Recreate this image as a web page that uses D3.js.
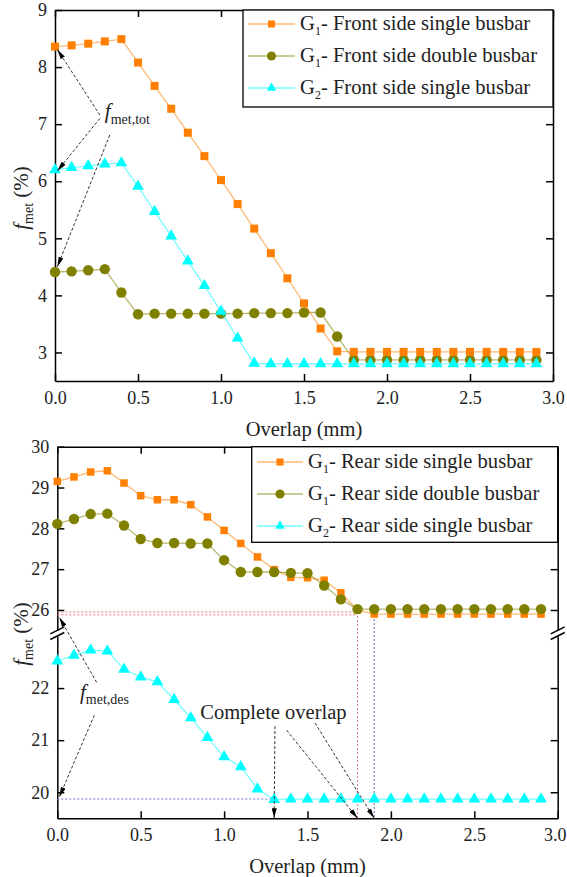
<!DOCTYPE html>
<html>
<head>
<meta charset="utf-8">
<script src="https://cdn.jsdelivr.net/npm/d3@7"></script>
<style>
body { margin: 0; background: #fff; }
svg, svg text { font-family: "Liberation Serif", "Times New Roman", serif !important; }
</style>
</head>
<body>
<svg id="chart" width="567" height="877"></svg>
<script>
// ---- data ----
var overlap = [0.0, 0.1, 0.2, 0.3, 0.4, 0.5, 0.6, 0.7, 0.8, 0.9,
               1.0, 1.1, 1.2, 1.3, 1.4, 1.5, 1.6, 1.7, 1.8, 1.9,
               2.0, 2.1, 2.2, 2.3, 2.4, 2.5, 2.6, 2.7, 2.8, 2.9];
var xTicks = [0.0, 0.5, 1.0, 1.5, 2.0, 2.5, 3.0];

// front side (top panel)
var frontG1Single = [8.36, 8.38, 8.41, 8.45, 8.49, 8.08, 7.67, 7.27, 6.85, 6.44,
                     6.02, 5.60, 5.17, 4.74, 4.30, 3.86, 3.42, 3.02, 3.01, 3.01,
                     3.01, 3.01, 3.01, 3.01, 3.01, 3.01, 3.01, 3.01, 3.01, 3.01];
var frontG1Double = [4.41, 4.42, 4.44, 4.46, 4.05, 3.67, 3.68, 3.68, 3.68, 3.68,
                     3.68, 3.68, 3.69, 3.69, 3.69, 3.70, 3.70, 3.28, 2.87, 2.87,
                     2.87, 2.87, 2.87, 2.87, 2.87, 2.87, 2.87, 2.87, 2.87, 2.87];
var frontG2Single = [6.20, 6.24, 6.27, 6.30, 6.32, 5.91, 5.47, 5.04, 4.60, 4.17,
                     3.72, 3.25, 2.81, 2.80, 2.80, 2.80, 2.80, 2.80, 2.80, 2.80,
                     2.80, 2.80, 2.80, 2.80, 2.80, 2.80, 2.80, 2.80, 2.80, 2.80];
var frontYTicks = [3, 4, 5, 6, 7, 8, 9];
var frontNames = ["- Front side single busbar", "- Front side double busbar", "- Front side single busbar"];

// rear side (bottom panel, broken y axis)
var rearG1Single = [29.15, 29.26, 29.38, 29.41, 29.11, 28.80, 28.70, 28.70, 28.58, 28.28,
                    27.95, 27.63, 27.30, 26.99, 26.80, 26.79, 26.73, 26.42, 26.00, 25.90,
                    25.90, 25.90, 25.90, 25.90, 25.90, 25.90, 25.90, 25.90, 25.90, 25.90];
var rearG1Double = [28.11, 28.23, 28.35, 28.36, 28.07, 27.74, 27.64, 27.64, 27.63, 27.63,
                    27.22, 26.93, 26.93, 26.93, 26.91, 26.90, 26.60, 26.26, 26.02, 26.02,
                    26.02, 26.02, 26.02, 26.02, 26.02, 26.02, 26.02, 26.02, 26.02, 26.02];
var rearG2Single = [22.52, 22.63, 22.73, 22.71, 22.36, 22.21, 22.12, 21.78, 21.43, 21.05,
                    20.68, 20.49, 20.06, 19.86, 19.87, 19.87, 19.87, 19.87, 19.87, 19.87,
                    19.87, 19.87, 19.87, 19.87, 19.87, 19.87, 19.87, 19.87, 19.87, 19.87];
var rearUpperTicks = [26, 27, 28, 29, 30];
var rearLowerTicks = [20, 21, 22];
var rearNames = ["- Rear side single busbar", "- Rear side double busbar", "- Rear side single busbar"];
var groupSubs = ["1", "1", "2"];

// guide / annotation points, in data units
var desLevels = [25.95, 25.88];       // dotted levels at complete overlap (G1)
var desG2Level = 19.87;
var overlapDone = [1.3, 1.8, 1.9];
var totArrows = [[0.27, 7.16, 0.014, 8.31], [0.27, 7.10, 0.014, 6.18], [0.33, 6.81, 0.014, 4.50]];

var cOrange = "#ff8000", cOlive = "#808000", cCyan = "#00ffff";

var svg = d3.select("#chart");

svg.append("defs").append("marker")
    .attr("id", "arrowhead")
    .attr("viewBox", "0 0 10 5")
    .attr("refX", 10).attr("refY", 2.5)
    .attr("markerWidth", 10).attr("markerHeight", 5)
    .attr("markerUnits", "userSpaceOnUse")
    .attr("orient", "auto")
    .append("path").attr("d", "M0,0 L10,2.5 L0,5 Z").attr("fill", "#000");

function styleAxis(g) {
    g.attr("font-family", null).attr("font-size", 18);
    g.select(".domain").attr("stroke", "#000").attr("stroke-width", 1.5);
    g.selectAll(".tick line").attr("stroke", "#000").attr("stroke-width", 1.5);
    g.selectAll(".tick text").attr("fill", "#222");
}

function drawSeries(g, x, y, vals, color, shape, size) {
    var pts = overlap.map(function (o, i) { return [o, vals[i]]; });
    g.append("path").datum(pts)
        .attr("d", d3.line().x(function (d) { return x(d[0]); }).y(function (d) { return y(d[1]); }))
        .attr("fill", "none").attr("stroke", color).attr("stroke-opacity", 0.55).attr("stroke-width", 1.3);
    g.selectAll(null).data(pts).enter().append("path")
        .attr("transform", function (d) { return "translate(" + x(d[0]) + "," + y(d[1]) + ")"; })
        .attr("d", d3.symbol().type(shape).size(size))
        .attr("fill", color);
}

function subLabel(g, x, y, main, sub, rest, size, subSize, italic) {
    var t = g.append("text").attr("x", x).attr("y", y).attr("font-size", size).attr("fill", "#222");
    t.append("tspan").text(main).attr("font-style", italic ? "italic" : null);
    t.append("tspan").text(sub).attr("font-size", subSize).attr("dy", size * 0.25);
    if (rest) t.append("tspan").text(rest).attr("dy", -size * 0.25);
    return t;
}

function legend(g, box, rowsY, names, lineX) {
    g.append("rect").attr("x", box[0]).attr("y", box[1])
        .attr("width", box[2] - box[0]).attr("height", box[3] - box[1])
        .attr("fill", "#fff").attr("stroke", "#000").attr("stroke-width", 1.3);
    var styles = [[cOrange, d3.symbolSquare, 50], [cOlive, d3.symbolCircle, 66], [cCyan, d3.symbolTriangle, 40]];
    names.forEach(function (name, i) {
        var yy = rowsY[i];
        g.append("line").attr("x1", lineX[0]).attr("x2", lineX[1]).attr("y1", yy).attr("y2", yy)
            .attr("stroke", styles[i][0]).attr("stroke-opacity", 0.55).attr("stroke-width", 1.3);
        g.append("path").attr("transform", "translate(" + (lineX[0] + lineX[1]) / 2 + "," + yy + ")")
            .attr("d", d3.symbol().type(styles[i][1]).size(styles[i][2])).attr("fill", styles[i][0]);
        subLabel(g, lineX[1] + 5, yy + 6, "G", groupSubs[i], name, 20.6, 12, false);
    });
}

function arrow(g, x1, y1, x2, y2) {
    g.append("line").attr("x1", x1).attr("y1", y1).attr("x2", x2).attr("y2", y2)
        .attr("stroke", "#333").attr("stroke-width", 1).attr("stroke-dasharray", "3,2")
        .attr("marker-end", "url(#arrowhead)");
}

function yTitle(g, x, y) {
    var t = g.append("text").attr("transform", "translate(" + x + "," + y + ") rotate(-90)")
        .attr("text-anchor", "middle").attr("font-size", 21).attr("fill", "#222");
    t.append("tspan").text("f").attr("font-style", "italic");
    t.append("tspan").text("met").attr("font-size", 14).attr("dy", 5);
    t.append("tspan").text(" (%)").attr("dy", -5);
}

// keep the last x label inside the page
function nudgeLast(g) {
    g.selectAll(".tick text").filter(function (d) { return d === 3; }).attr("dx", -3);
}

var intFmt = d3.format("d"), xFmt = d3.format(".1f");

// ================= top panel =================
(function () {
    var L = 55, R = 553, T = 10, B = 381;
    var x = d3.scaleLinear().domain([0, 3]).range([L, R]);
    var y = d3.scaleLinear().domain([2.5, 9]).range([B, T]);
    var g = svg.append("g");

    g.append("g").attr("transform", "translate(0," + B + ")")
        .call(d3.axisBottom(x).tickValues(xTicks).tickFormat(xFmt).tickSizeInner(-7).tickSizeOuter(0).tickPadding(10))
        .call(styleAxis);
    g.append("g").attr("transform", "translate(0," + T + ")")
        .call(d3.axisTop(x).tickValues(xTicks).tickFormat("").tickSizeInner(-7).tickSizeOuter(0))
        .call(styleAxis);
    g.append("g").attr("transform", "translate(" + L + ",0)")
        .call(d3.axisLeft(y).tickValues(frontYTicks).tickFormat(intFmt).tickSizeInner(-7).tickSizeOuter(0).tickPadding(8))
        .call(styleAxis);
    g.append("g").attr("transform", "translate(" + R + ",0)")
        .call(d3.axisRight(y).tickValues(frontYTicks).tickFormat("").tickSizeInner(-7).tickSizeOuter(0))
        .call(styleAxis);

    legend(g, [243, T, R, 107], [24, 56, 88], frontNames, [248, 295]);

    drawSeries(g, x, y, frontG1Double, cOlive, d3.symbolCircle, 85);
    drawSeries(g, x, y, frontG2Single, cCyan, d3.symbolTriangle, 60);
    drawSeries(g, x, y, frontG1Single, cOrange, d3.symbolSquare, 64);

    totArrows.forEach(function (a) { arrow(g, x(a[0]), y(a[1]), x(a[2]), y(a[3])); });
    subLabel(g, x(0.30), y(7.10), "f", "met,tot", null, 21, 14, true);

    g.append("text").attr("x", x(1.5)).attr("y", 436).attr("text-anchor", "middle")
        .attr("font-size", 20.5).attr("fill", "#222").text("Overlap (mm)");
    yTitle(g, 28, 198);
})();

// ================= bottom panel =================
(function () {
    var L = 57.3, R = 557.7, T = 446.7, B = 818.3;
    var upBottom = 630.4, lowTop = 636;
    var x = d3.scaleLinear().domain([0, 3]).range([L, R]);
    var yUp = d3.scaleLinear().domain([25.5, 30]).range([upBottom, T]);
    var yLow = d3.scaleLinear().domain([19.5, 23]).range([B, lowTop]);
    var g = svg.append("g");

    g.append("g").attr("transform", "translate(0," + B + ")")
        .call(d3.axisBottom(x).tickValues(xTicks).tickFormat(xFmt).tickSizeInner(-7).tickSizeOuter(0).tickPadding(10))
        .call(styleAxis).call(nudgeLast);
    g.append("g").attr("transform", "translate(0," + T + ")")
        .call(d3.axisTop(x).tickValues(xTicks).tickFormat("").tickSizeInner(-7).tickSizeOuter(0))
        .call(styleAxis);
    [[yUp, rearUpperTicks], [yLow, rearLowerTicks]].forEach(function (seg) {
        g.append("g").attr("transform", "translate(" + L + ",0)")
            .call(d3.axisLeft(seg[0]).tickValues(seg[1]).tickFormat(intFmt).tickSizeInner(-7).tickSizeOuter(0).tickPadding(8))
            .call(styleAxis);
        g.append("g").attr("transform", "translate(" + R + ",0)")
            .call(d3.axisRight(seg[0]).tickValues(seg[1]).tickFormat("").tickSizeInner(-7).tickSizeOuter(0))
            .call(styleAxis);
    });
    // break marks
    [L, R].forEach(function (ax) {
        [upBottom, lowTop].forEach(function (by) {
            g.append("line").attr("x1", ax - 7).attr("y1", by + 3.5).attr("x2", ax + 7).attr("y2", by - 3.5)
                .attr("stroke", "#000").attr("stroke-width", 1.5);
        });
    });

    legend(g, [251.7, T, R, 542.3], [462, 494, 526], rearNames, [257, 303]);

    // guide lines
    var pink = "#e8778a";
    desLevels.forEach(function (v) {
        g.append("line").attr("x1", L).attr("x2", x(overlapDone[1])).attr("y1", yUp(v)).attr("y2", yUp(v))
            .attr("stroke", pink).attr("stroke-width", 1).attr("stroke-dasharray", "2,2");
    });
    g.append("line").attr("x1", x(overlapDone[1])).attr("x2", x(overlapDone[1])).attr("y1", yUp(desLevels[0])).attr("y2", B)
        .attr("stroke", pink).attr("stroke-width", 1).attr("stroke-dasharray", "2,2");
    g.append("line").attr("x1", x(overlapDone[2])).attr("x2", x(overlapDone[2])).attr("y1", yUp(25.78)).attr("y2", B)
        .attr("stroke", "#6a6a98").attr("stroke-width", 1).attr("stroke-dasharray", "2,2");
    g.append("line").attr("x1", L).attr("x2", x(overlapDone[0])).attr("y1", yLow(desG2Level)).attr("y2", yLow(desG2Level))
        .attr("stroke", "#7777dd").attr("stroke-width", 1).attr("stroke-dasharray", "2,2");

    drawSeries(g, x, yUp, rearG1Single, cOrange, d3.symbolSquare, 56);
    drawSeries(g, x, yUp, rearG1Double, cOlive, d3.symbolCircle, 85);
    drawSeries(g, x, yLow, rearG2Single, cCyan, d3.symbolTriangle, 60);

    // f_met,des annotation
    arrow(g, x(0.236), yLow(22.11), x(0.012), yUp(25.82));
    arrow(g, x(0.222), yLow(21.48), x(0.012), yLow(19.91));
    subLabel(g, x(0.136), yLow(21.80), "f", "met,des", null, 21, 14, true);

    // complete overlap annotation
    g.append("text").attr("x", x(0.857)).attr("y", yLow(21.40)).attr("font-size", 20.5).attr("fill", "#222")
        .text("Complete overlap");
    arrow(g, x(1.305), yLow(21.27), x(overlapDone[0]), B);
    arrow(g, x(1.375), yLow(21.19), x(overlapDone[1]), B);
    arrow(g, x(1.545), yLow(21.33), x(overlapDone[2]), B);

    g.append("text").attr("x", x(1.5)).attr("y", 873).attr("text-anchor", "middle")
        .attr("font-size", 20.5).attr("fill", "#222").text("Overlap (mm)");
    yTitle(g, 28, 634);
})();
</script>
</body>
</html>
